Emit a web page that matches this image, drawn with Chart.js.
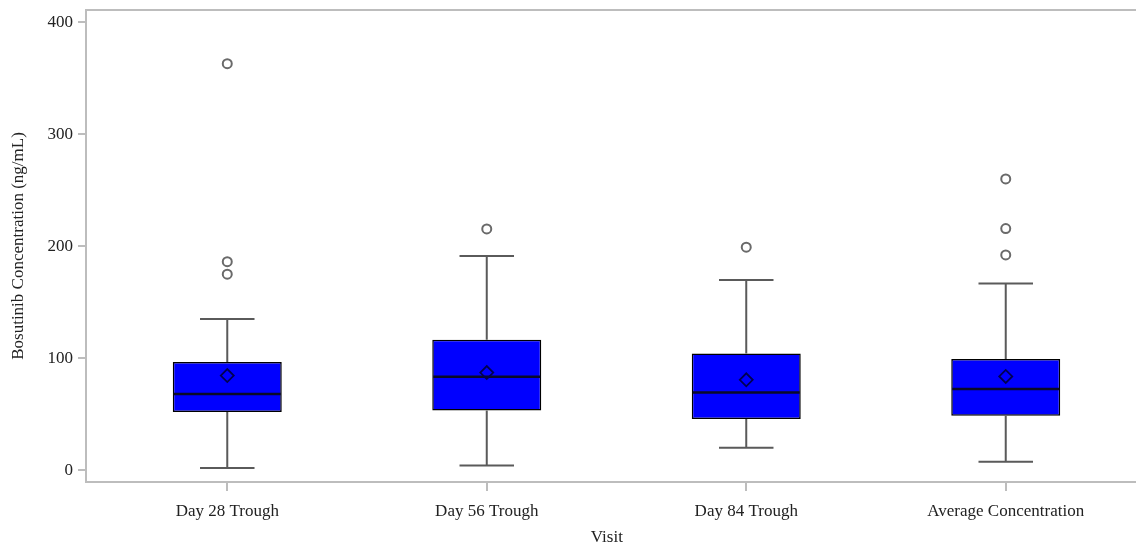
<!DOCTYPE html>
<html><head><meta charset="utf-8">
<script src="https://cdn.jsdelivr.net/npm/chart.js@4.4.1/dist/chart.umd.min.js"></script>
<style>html,body{margin:0;padding:0;background:#fff;overflow:hidden;} #wrap{width:1136px;height:546px;}</style>
</head><body><div id="wrap"><canvas id="c" width="1136" height="546"></canvas></div>
<script>
const categories = ['Day 28 Trough', 'Day 56 Trough', 'Day 84 Trough', 'Average Concentration'];
const whiskerLow = [2.1, 4.5, 20.2, 7.8];
const q1 = [52.1, 53.5, 45.9, 48.8];
const median = [68.2, 83.6, 69.6, 72.6];
const q3 = [96.7, 116.6, 104.4, 99.4];
const whiskerHigh = [135.3, 191.5, 170.1, 166.8];
const means = [84.7, 87.4, 80.9, 83.9];
const outliers = [[363.1, 186.4, 175.2], [215.6], [199.3], [260.2, 215.9, 192.4]];
const yTicks = [0, 100, 200, 300, 400];

const FONT = 'Liberation Serif';
const AXIS = '#bdbdbd';

const boxData = categories.map((c, i) => ({x: i + 1, y: [q1[i], q3[i]]}));
const meanData = categories.map((c, i) => ({x: i + 1, y: means[i]}));
const outlierData = [];
outliers.forEach((arr, i) => arr.forEach(v => outlierData.push({x: i + 1, y: v})));

const boxExtras = {
  id: 'boxExtras',
  afterDatasetDraw(chart, args) {
    if (args.index !== 0) return;
    const xs = chart.scales.x, ys = chart.scales.y, ctx = chart.ctx;
    const meta = chart.getDatasetMeta(0);
    ctx.save();
    categories.forEach((c, i) => {
      const cx = xs.getPixelForValue(i + 1);
      const capHalf = xs.getPixelForValue(i + 1 + 0.105) - cx;
      const bar = meta.data[i];
      const half = bar.width / 2;
      ctx.strokeStyle = '#5a5a5a';
      ctx.lineWidth = 2;
      ctx.beginPath();
      ctx.moveTo(cx, ys.getPixelForValue(q3[i]));
      ctx.lineTo(cx, ys.getPixelForValue(whiskerHigh[i]));
      ctx.moveTo(cx, ys.getPixelForValue(q1[i]));
      ctx.lineTo(cx, ys.getPixelForValue(whiskerLow[i]));
      ctx.moveTo(cx - capHalf, ys.getPixelForValue(whiskerHigh[i]));
      ctx.lineTo(cx + capHalf, ys.getPixelForValue(whiskerHigh[i]));
      ctx.moveTo(cx - capHalf, ys.getPixelForValue(whiskerLow[i]));
      ctx.lineTo(cx + capHalf, ys.getPixelForValue(whiskerLow[i]));
      ctx.stroke();
      ctx.strokeStyle = '#0a0a28';
      ctx.lineWidth = 2.5;
      ctx.beginPath();
      ctx.moveTo(cx - half + 1, ys.getPixelForValue(median[i]));
      ctx.lineTo(cx + half - 1, ys.getPixelForValue(median[i]));
      ctx.stroke();
    });
    ctx.restore();
  },
  afterDraw(chart) {
    const a = chart.chartArea, ctx = chart.ctx;
    const yb = chart.scales.x.top;
    ctx.save();
    ctx.strokeStyle = AXIS;
    ctx.lineWidth = 2;
    ctx.beginPath();
    ctx.moveTo(a.left - 1, a.top);
    ctx.lineTo(chart.width, a.top);
    ctx.moveTo(a.right - 2, Math.round(yb));
    ctx.lineTo(chart.width, Math.round(yb));
    ctx.stroke();
    ctx.restore();
  }
};

new Chart(document.getElementById('c'), {
  type: 'bar',
  data: {
    datasets: [
      {type: 'bar', data: boxData, backgroundColor: '#0000ff', borderColor: '#000000', borderWidth: 1.5,
       borderSkipped: false, barPercentage: 0.42, categoryPercentage: 1, order: 3},
      {type: 'scatter', data: outlierData, pointStyle: 'circle', pointRadius: 4.5, pointBorderWidth: 2,
       pointBorderColor: '#6a6a6a', pointBackgroundColor: '#ffffff', order: 2},
      {type: 'scatter', data: meanData, pointStyle: 'rectRot', pointRadius: 6.5, pointBorderWidth: 1.8,
       pointBorderColor: '#000050', pointBackgroundColor: 'rgba(0,0,0,0)', order: 1}
    ]
  },
  options: {
    responsive: false,
    animation: false,
    layout: {padding: {top: 10, right: 0, left: 0, bottom: 0}},
    plugins: {legend: {display: false}, tooltip: {enabled: false}},
    scales: {
      x: {
        type: 'linear', min: 0.4556, max: 4.47, offset: false,
        afterBuildTicks: s => { s.ticks = categories.map((c, i) => ({value: i + 1})); },
        afterFit: s => { s.height = 64; },
        grid: {offset: false, drawOnChartArea: false, drawTicks: true, tickLength: 9, color: AXIS, lineWidth: 2},
        border: {color: AXIS, width: 2},
        ticks: {callback: v => categories[v - 1], maxRotation: 0, autoSkip: false, padding: 10,
                font: {family: FONT, size: 17}, color: '#222'},
        title: {display: true, text: 'Visit', font: {family: FONT, size: 17, lineHeight: 1.0}, color: '#222',
                padding: {top: 0, bottom: 0}}
      },
      y: {
        min: -10.3, max: 411,
        afterBuildTicks: s => { s.ticks = yTicks.map(v => ({value: v})); },
        afterFit: s => { s.width = 86; },
        grid: {drawOnChartArea: false, drawTicks: true, tickLength: 8, color: AXIS, lineWidth: 2},
        border: {color: AXIS, width: 2},
        ticks: {padding: 5, font: {family: FONT, size: 17, lineHeight: 0.5}, color: '#222'},
        title: {display: true, text: 'Bosutinib Concentration (ng/mL)', font: {family: FONT, size: 17},
                color: '#222', padding: {top: 8, bottom: 0}}
      }
    }
  },
  plugins: [boxExtras]
});
</script>
</body></html>
